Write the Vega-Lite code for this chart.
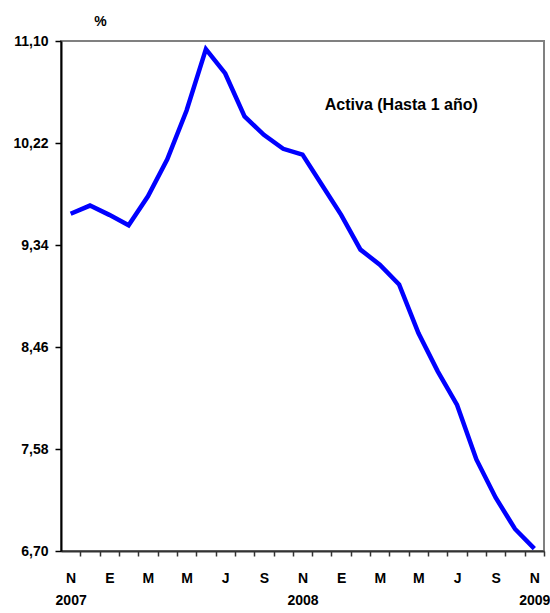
{
  "$schema": "https://vega.github.io/schema/vega-lite/v6.json",
  "width": 483,
  "height": 510,
  "autosize": {"type": "none"},
  "padding": {"left": 61, "top": 41, "right": 6, "bottom": 62},
  "background": "white",
  "config": {
    "font": "Liberation Sans",
    "view": {"stroke": "#808080", "strokeWidth": 2},
    "axis": {"labelFont": "Liberation Sans", "labelFontWeight": "bold", "labelColor": "#000000", "labelFontSize": 14, "grid": false}
  },
  "encoding": {
    "x": {
      "field": "periodo", "type": "ordinal",
      "scale": {"type": "band", "paddingInner": 0, "paddingOuter": 0},
      "axis": {
        "title": null,
        "tickOffset": 9.66, "labelOffset": -9.66,
        "domainColor": "#333333", "domainWidth": 2,
        "tickColor": "#333333", "tickWidth": 1.5, "tickSize": 5,
        "labelAngle": 0, "labelPadding": 22, "labelLineHeight": 22,
        "labelBaseline": "middle",
        "labelExpr": "datum.value == '2007-11' ? ['N','2007'] : datum.value == '2008-11' ? ['N','2008'] : datum.value == '2009-11' ? ['N','2009'] : ['','E','','M','','M','','J','','S','','N',''][toNumber(slice(datum.value,5))]"
      }
    },
    "y": {
      "field": "valor", "type": "quantitative",
      "scale": {"domain": [6.7, 11.1], "nice": false, "zero": false},
      "axis": {
        "title": "%", "titleAngle": 0, "titleX": 39, "titleY": -20,
        "titleAlign": "center", "titleBaseline": "middle",
        "titleFont": "Liberation Sans", "titleFontSize": 14, "titleFontWeight": "bold", "titleColor": "#000000",
        "values": [6.70, 7.58, 8.46, 9.34, 10.22, 11.10],
        "labelExpr": "replace(format(datum.value, '.2f'), '.', ',')",
        "domainColor": "#000000", "domainWidth": 2,
        "tickColor": "#000000", "tickWidth": 1.5, "tickSize": 6,
        "labelPadding": 7
      }
    }
  },
  "layer": [
    {
      "data": {"values": [
        {"periodo": "2007-11", "valor": 9.61},
        {"periodo": "2007-12", "valor": 9.68},
        {"periodo": "2008-01", "valor": 9.60},
        {"periodo": "2008-02", "valor": 9.51},
        {"periodo": "2008-03", "valor": 9.76},
        {"periodo": "2008-04", "valor": 10.08},
        {"periodo": "2008-05", "valor": 10.50},
        {"periodo": "2008-06", "valor": 11.03},
        {"periodo": "2008-07", "valor": 10.82},
        {"periodo": "2008-08", "valor": 10.45},
        {"periodo": "2008-09", "valor": 10.29},
        {"periodo": "2008-10", "valor": 10.17},
        {"periodo": "2008-11", "valor": 10.12},
        {"periodo": "2008-12", "valor": 9.86},
        {"periodo": "2009-01", "valor": 9.60},
        {"periodo": "2009-02", "valor": 9.30},
        {"periodo": "2009-03", "valor": 9.17},
        {"periodo": "2009-04", "valor": 9.00},
        {"periodo": "2009-05", "valor": 8.58},
        {"periodo": "2009-06", "valor": 8.25},
        {"periodo": "2009-07", "valor": 7.96},
        {"periodo": "2009-08", "valor": 7.49},
        {"periodo": "2009-09", "valor": 7.16},
        {"periodo": "2009-10", "valor": 6.89},
        {"periodo": "2009-11", "valor": 6.72}
      ]},
      "mark": {"type": "line", "color": "#0000FF", "strokeWidth": 4.5}
    },
    {
      "data": {"values": [{"periodo": "2008-12", "valor": 10.55, "etiqueta": "Activa (Hasta 1 año)"}]},
      "mark": {"type": "text", "align": "left", "baseline": "middle", "dx": 3, "fontSize": 16, "fontWeight": "bold", "font": "Liberation Sans", "color": "#000000"},
      "encoding": {
        "text": {"field": "etiqueta"}
      }
    }
  ]
}
